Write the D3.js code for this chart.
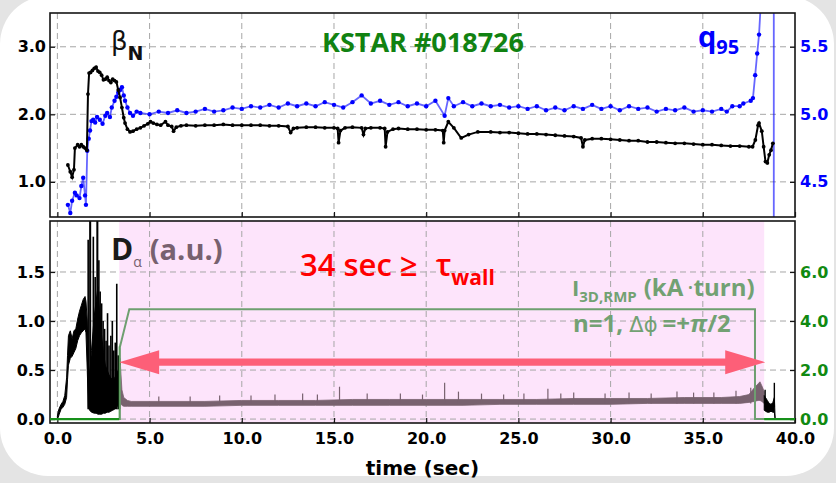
<!DOCTYPE html>
<meta charset="utf-8">
<script src="https://cdn.jsdelivr.net/npm/d3@7/dist/d3.min.js"></script>
<style>
  body { margin: 0; background: #e4e4e4; }
  .tick text { font-family: "DejaVu Sans"; font-weight: bold; font-size: 16px; }
  .grid line { stroke: #a6a6a6; stroke-width: 1; stroke-dasharray: 6,4; }
  .frame { fill: none; stroke: #151515; stroke-width: 1.6; }
</style>
<body>
<script>

// ---- data ----
var timeTicks = [0, 5, 10, 15, 20, 25, 30, 35, 40]
var betaTicks = [1.0, 2.0, 3.0]
var qTicks = [4.5, 5.0, 5.5]
var daTicks = [0.0, 0.5, 1.0, 1.5]
var rmpTicks = [0.0, 2.0, 4.0, 6.0]

// beta_N (black)
var betaT = [0.57, 0.7, 0.8, 0.9, 0.95, 1.1, 1.2, 1.3, 1.4, 1.5, 1.6, 1.66, 1.72, 1.8, 1.9, 2.0, 2.1, 2.2, 2.3, 2.4,
  2.5, 2.6, 2.7, 2.8, 2.9, 3.0, 3.1, 3.2, 3.3, 3.4, 3.5, 3.6, 3.67, 3.8, 3.94, 4.1, 4.3, 4.5, 4.7, 4.9,
  5.05, 5.2, 5.4, 5.6, 5.86, 6.0, 6.2, 6.3, 6.45, 6.7, 7.0, 7.5, 8.0, 8.5, 9.0, 9.5, 10.0, 10.5, 11.0, 11.5,
  12.0, 12.5, 12.65, 12.8, 13.0, 13.5, 14.0, 14.5, 15.0, 15.2, 15.25, 15.35, 15.6, 16.0, 16.5, 16.6, 16.7, 17.0, 17.5, 17.75,
  17.8, 17.9, 18.2, 18.5, 19.0, 19.5, 20.0, 20.5, 20.9, 20.95, 21.0, 21.2, 21.5, 21.9, 22.3, 22.8, 23.5, 24.0, 24.5, 25.0,
  25.5, 26.0, 26.5, 27.0, 27.5, 28.0, 28.4, 28.5, 28.6, 29.0, 29.5, 30.0, 30.5, 31.0, 31.5, 32.0, 32.5, 33.0, 33.5, 34.0,
  34.5, 35.0, 35.5, 36.0, 36.5, 37.0, 37.5, 37.7, 37.85, 38.0, 38.05, 38.2, 38.3, 38.4, 38.5, 38.6, 38.7, 38.8]
var betaN = [1.25, 1.15, 1.07, 1.18, 1.50, 1.55, 1.52, 1.55, 1.52, 1.50, 1.47, 2.30, 2.61, 2.62, 2.65, 2.68, 2.70, 2.64, 2.62, 2.58,
  2.51, 2.52, 2.55, 2.50, 2.47, 2.52, 2.50, 2.48, 2.36, 2.25, 2.10, 1.95, 1.87, 1.78, 1.74, 1.75, 1.78, 1.80, 1.83, 1.86,
  1.89, 1.87, 1.85, 1.84, 1.89, 1.84, 1.82, 1.75, 1.81, 1.83, 1.84, 1.83, 1.84, 1.84, 1.85, 1.84, 1.84, 1.84, 1.84, 1.83,
  1.83, 1.82, 1.73, 1.79, 1.80, 1.81, 1.81, 1.80, 1.80, 1.79, 1.58, 1.76, 1.80, 1.81, 1.80, 1.70, 1.79, 1.80, 1.80, 1.79,
  1.52, 1.74, 1.78, 1.79, 1.78, 1.78, 1.77, 1.77, 1.76, 1.58, 1.76, 1.89, 1.80, 1.65, 1.70, 1.74, 1.74, 1.73, 1.73, 1.72,
  1.71, 1.71, 1.70, 1.69, 1.68, 1.67, 1.65, 1.52, 1.62, 1.64, 1.64, 1.63, 1.62, 1.61, 1.61, 1.59, 1.59, 1.58, 1.57, 1.57,
  1.56, 1.55, 1.55, 1.54, 1.53, 1.53, 1.52, 1.52, 1.62, 1.84, 1.87, 1.75, 1.52, 1.30, 1.28, 1.40, 1.47, 1.57]

// q95 (blue); the last points run off the top and come back down at 38.85
var qT = [0.57, 0.7, 0.8, 0.95, 1.05, 1.2, 1.3, 1.4, 1.5, 1.55, 1.62, 1.7, 1.77, 1.85, 1.94, 2.05, 2.15, 2.3, 2.45, 2.6,
  2.7, 2.85, 2.95, 3.1, 3.2, 3.3, 3.4, 3.5, 3.6, 3.67, 3.8, 3.94, 4.1, 4.3, 4.5, 5.0, 5.5, 6.0, 6.5, 7.0,
  7.5, 8.0, 8.5, 9.0, 9.5, 10.0, 10.5, 11.0, 11.5, 12.0, 12.5, 13.0, 13.5, 14.0, 14.5, 15.0, 15.5, 16.0, 16.5, 17.0,
  17.5, 18.0, 18.5, 19.0, 19.5, 20.0, 20.5, 21.0, 21.2, 21.5, 22.0, 22.5, 23.0, 23.5, 24.0, 24.5, 25.0, 25.5, 26.0, 26.5,
  27.0, 27.5, 28.0, 28.5, 29.0, 29.5, 30.0, 30.5, 31.0, 31.5, 32.0, 32.5, 33.0, 33.5, 34.0, 34.5, 35.0, 35.5, 36.0, 36.3,
  36.6, 37.0, 37.2, 37.6, 37.72, 37.84, 37.95, 38.05, 38.3, 38.85, 38.85]
var q95 = [4.33, 4.27, 4.36, 4.42, 4.40, 4.38, 4.47, 4.53, 4.40, 4.33, 4.73, 4.82, 4.88, 4.95, 4.96, 4.94, 4.98, 4.96, 4.93, 4.99,
  5.01, 4.98, 5.05, 5.10, 5.13, 5.16, 5.18, 5.20, 5.14, 5.10, 5.05, 5.01, 4.99, 5.02, 5.01, 5.00, 5.02, 5.01, 5.03, 5.01,
  5.02, 5.04, 5.02, 5.03, 5.05, 5.04, 5.06, 5.05, 5.07, 5.05, 5.08, 5.06, 5.08, 5.06, 5.09, 5.07, 5.05, 5.09, 5.14, 5.08,
  5.10, 5.07, 5.09, 5.06, 5.08, 5.06, 5.10, 4.99, 5.12, 5.06, 5.09, 5.06, 5.08, 5.06, 5.07, 5.05, 5.06, 5.04, 5.06, 5.03,
  5.05, 5.03, 5.06, 5.04, 5.07, 5.04, 5.06, 5.03, 5.06, 5.04, 5.05, 5.02, 5.04, 5.03, 5.05, 5.02, 5.03, 5.02, 5.04, 5.02,
  5.06, 5.06, 5.08, 5.10, 5.12, 5.29, 5.45, 5.59, 6.20, 6.20, 3.90]

// D_alpha, early black part: lower / upper envelope
var daEarlyT = [0.0, 0.05, 0.1, 0.2, 0.3, 0.4, 0.5, 0.55, 0.6, 0.7, 0.8, 0.9, 1.0, 1.1, 1.2, 1.3, 1.4, 1.5, 1.55, 1.62,
  1.68, 1.75, 1.85, 2.0, 2.1, 2.2, 2.3, 2.4, 2.5, 2.6, 2.7, 2.8, 2.9, 3.0, 3.1, 3.2, 3.3, 3.42]
var daEarlyLo = [0.0, 0.02, 0.05, 0.10, 0.12, 0.15, 0.22, 0.40, 0.55, 0.62, 0.64, 0.68, 0.72, 0.80, 0.85, 0.88, 0.90, 0.92, 0.88, 0.50,
  0.12, 0.09, 0.07, 0.06, 0.06, 0.05, 0.05, 0.05, 0.06, 0.06, 0.07, 0.07, 0.08, 0.09, 0.10, 0.12, 0.14, 0.18]
var daEarlyHi = [0.03, 0.08, 0.11, 0.15, 0.18, 0.24, 0.42, 0.65, 0.85, 0.90, 0.82, 0.90, 0.92, 1.02, 1.10, 1.16, 1.22, 1.25, 1.20, 1.00,
  0.55, 0.45, 0.70, 1.05, 1.20, 1.35, 1.05, 0.85, 0.68, 0.55, 0.50, 0.45, 0.42, 0.40, 0.42, 0.45, 0.50, 0.58]
var daEarlySpikeT = [1.67, 1.77, 1.79, 1.95, 2.05, 2.16, 2.18, 2.25, 2.32, 2.4, 2.48, 2.56, 2.64, 2.72, 2.8, 2.9, 2.98, 3.06, 3.14, 3.22, 3.3, 3.38]
var daEarlySpike = [1.83, 2.10, 2.10, 1.86, 1.45, 2.10, 2.10, 1.62, 1.30, 1.18, 1.00, 0.92, 0.80, 1.08, 0.75, 0.85, 1.00, 0.70, 0.78, 1.38, 0.65, 0.62]

// D_alpha inside the shaded window (mauve)
var daBandT = [3.42, 3.5, 3.6, 3.8, 4.0, 5, 6, 8, 10, 12, 14, 16, 18, 20, 22, 24, 26, 28, 30, 32,
  34, 36, 37, 37.5, 37.8, 38.0, 38.1, 38.2, 38.33]
var daBandLo = [0.16, 0.14, 0.13, 0.13, 0.13, 0.13, 0.13, 0.13, 0.14, 0.14, 0.14, 0.14, 0.14, 0.14, 0.14, 0.15, 0.15, 0.15, 0.15, 0.16,
  0.16, 0.16, 0.16, 0.17, 0.18, 0.19, 0.19, 0.18, 0.16]
var daBandHi = [0.55, 0.30, 0.22, 0.19, 0.18, 0.18, 0.18, 0.18, 0.19, 0.19, 0.19, 0.20, 0.20, 0.20, 0.20, 0.20, 0.20, 0.21, 0.21, 0.21,
  0.22, 0.22, 0.23, 0.25, 0.32, 0.36, 0.38, 0.34, 0.28]
var daBandSpikeT = [5.5, 7.2, 8.8, 10.5, 11.8, 13.3, 14.1, 15.3, 16.8, 18.6, 19.8, 21.0, 21.75, 23.0, 24.2, 25.3, 26.6, 27.3, 28.0, 29.7,
  31.0, 32.2, 33.6, 34.5, 35.6, 36.8, 37.6]
var daBandSpike = [0.23, 0.23, 0.24, 0.24, 0.25, 0.26, 0.25, 0.33, 0.26, 0.26, 0.25, 0.37, 0.28, 0.26, 0.25, 0.26, 0.31, 0.26, 0.27, 0.26,
  0.27, 0.26, 0.28, 0.27, 0.27, 0.29, 0.32]

// D_alpha after the window (black)
var daLateT = [38.33, 38.4, 38.5, 38.6, 38.7, 38.8, 38.88, 38.92]
var daLateLo = [0.09, 0.08, 0.07, 0.07, 0.08, 0.07, 0.07, 0.0]
var daLateHi = [0.24, 0.22, 0.19, 0.16, 0.15, 0.17, 0.22, 0.02]
var daLateSpikeT = [38.38, 38.88]
var daLateSpike = [0.30, 0.37]

// I_3D,RMP in kA turn (green)
var rmpT = [-0.4, 3.39, 3.39, 3.9, 37.83, 37.83, 40.0]
var rmpKA = [0.0, 0.0, 2.94, 4.48, 4.48, 0.0, 0.0]

// shaded window and arrow
var windowT = [3.35, 38.33]
var arrowLevel = 0.58

// ---- layout ----
var W = 836, H = 483
var left = 50, right = 795
var top1 = 13, bot1 = 217
var top2 = 221, bot2 = 423

var svg = d3.select("body").append("svg").attr("width", W).attr("height", H)

svg.append("rect").attr("width", W).attr("height", H).style("fill", "#e4e4e4")
svg.append("rect").attr("x", 0).attr("y", -4).attr("width", 834).attr("height", 480).attr("rx", 48).style("fill", "white")

var x = d3.scaleLinear().domain([-0.4, 40.0]).range([left, right])
var yBeta = d3.scaleLinear().domain([0.48, 3.5]).range([bot1, top1])
var yQ = d3.scaleLinear().domain([4.24, 5.75]).range([bot1, top1])
var yDa = d3.scaleLinear().domain([-0.04, 2.02]).range([bot2, top2])
var yRmp = d3.scaleLinear().domain([-0.16, 8.08]).range([bot2, top2])

var defs = svg.append("defs")
defs.append("clipPath").attr("id", "clip1").append("rect").attr("x", left).attr("y", top1).attr("width", right - left).attr("height", bot1 - top1)
defs.append("clipPath").attr("id", "clip2").append("rect").attr("x", left).attr("y", top2).attr("width", right - left).attr("height", bot2 - top2)
var outside = defs.append("clipPath").attr("id", "clipOut")
outside.append("rect").attr("x", left).attr("y", top2).attr("width", x(windowT[0]) - left).attr("height", bot2 - top2 + 2)
outside.append("rect").attr("x", x(windowT[1])).attr("y", top2).attr("width", right - x(windowT[1])).attr("height", bot2 - top2 + 2)

function zip(a, b) { return a.map((d, i) => [d, b[i]]) }
function zip3(a, b, c) { return a.map((d, i) => [d, b[i], c[i]]) }

// ---------- top panel ----------
var p1 = svg.append("g")
p1.append("rect").attr("x", left).attr("y", top1).attr("width", right - left).attr("height", bot1 - top1).style("fill", "white")

var g1 = p1.append("g").attr("class", "grid")
g1.selectAll(".vx").data(timeTicks.slice(0, -1)).enter().append("line")
  .attr("x1", d => x(d)).attr("x2", d => x(d)).attr("y1", top1).attr("y2", bot1)
g1.selectAll(".hy").data(betaTicks).enter().append("line")
  .attr("x1", left).attr("x2", right).attr("y1", d => yBeta(d)).attr("y2", d => yBeta(d))

var d1 = p1.append("g").attr("clip-path", "url(#clip1)")
var qData = zip(qT, q95)
var betaData = zip(betaT, betaN)

d1.append("path").datum(qData)
  .attr("d", d3.line().x(d => x(d[0])).y(d => yQ(d[1])))
  .style("fill", "none").style("stroke", "#0000ff").style("stroke-opacity", 0.6).style("stroke-width", 1.8)
d1.selectAll(".qdot").data(qData.slice(0, -3)).enter().append("circle")
  .attr("cx", d => x(d[0])).attr("cy", d => yQ(d[1])).attr("r", 2.2).style("fill", "#0000ff")

d1.append("path").datum(betaData)
  .attr("d", d3.line().x(d => x(d[0])).y(d => yBeta(d[1])))
  .style("fill", "none").style("stroke", "#000").style("stroke-width", 2)
d1.selectAll(".bdot").data(betaData).enter().append("circle")
  .attr("cx", d => x(d[0])).attr("cy", d => yBeta(d[1])).attr("r", 1.9).style("fill", "#000")

var ax1L = p1.append("g").attr("transform", "translate(" + left + ",0)")
  .call(d3.axisLeft(yBeta).tickValues(betaTicks).tickFormat(d3.format(".1f")).tickSizeInner(-5).tickSizeOuter(0).tickPadding(4))
var ax1R = p1.append("g").attr("transform", "translate(" + right + ",0)")
  .call(d3.axisRight(yQ).tickValues(qTicks).tickFormat(d3.format(".1f")).tickSizeInner(-5).tickSizeOuter(0).tickPadding(5))
ax1R.selectAll("text").style("fill", "#0000ff")
var ax1B = p1.append("g").attr("transform", "translate(0," + bot1 + ")")
  .call(d3.axisBottom(x).tickValues(timeTicks).tickFormat("").tickSizeInner(-5).tickSizeOuter(0))
p1.append("rect").attr("class", "frame").attr("x", left).attr("y", top1).attr("width", right - left).attr("height", bot1 - top1)

// ---------- bottom panel ----------
var p2 = svg.append("g")
p2.append("rect").attr("x", left).attr("y", top2).attr("width", right - left).attr("height", bot2 - top2).style("fill", "white")
p2.append("rect").attr("x", x(windowT[0])).attr("y", top2).attr("width", x(windowT[1]) - x(windowT[0])).attr("height", bot2 - top2)
  .style("fill", "#fde4fb")

var g2 = p2.append("g").attr("class", "grid")
g2.selectAll(".vx").data(timeTicks.slice(0, -1)).enter().append("line")
  .attr("x1", d => x(d)).attr("x2", d => x(d)).attr("y1", top2).attr("y2", bot2)
g2.selectAll(".hy").data(daTicks).enter().append("line")
  .attr("x1", left).attr("x2", right).attr("y1", d => yDa(d)).attr("y2", d => yDa(d))

var d2 = p2.append("g").attr("clip-path", "url(#clip2)")
var band = d3.area().x(d => x(d[0])).y0(d => yDa(d[1])).y1(d => yDa(d[2]))

d2.append("path").datum(zip3(daEarlyT, daEarlyLo, daEarlyHi)).attr("d", band)
  .style("fill", "#000").style("stroke", "#000").style("stroke-width", 1)
d2.selectAll(".es").data(zip(daEarlySpikeT, daEarlySpike)).enter().append("line")
  .attr("x1", d => x(d[0])).attr("x2", d => x(d[0])).attr("y1", yDa(0.1)).attr("y2", d => yDa(d[1]))
  .style("stroke", "#000").style("stroke-width", 1.6)

d2.append("path").datum(zip3(daBandT, daBandLo, daBandHi)).attr("d", band)
  .style("fill", "#78626f").style("stroke", "#78626f").style("stroke-width", 0.8)
d2.selectAll(".bs").data(zip(daBandSpikeT, daBandSpike)).enter().append("line")
  .attr("x1", d => x(d[0])).attr("x2", d => x(d[0])).attr("y1", yDa(0.16)).attr("y2", d => yDa(d[1]))
  .style("stroke", "#78626f").style("stroke-width", 1.2)

d2.append("path").datum(zip3(daLateT, daLateLo, daLateHi)).attr("d", band)
  .style("fill", "#000").style("stroke", "#000").style("stroke-width", 1)
d2.selectAll(".ls").data(zip(daLateSpikeT, daLateSpike)).enter().append("line")
  .attr("x1", d => x(d[0])).attr("x2", d => x(d[0])).attr("y1", yDa(0.12)).attr("y2", d => yDa(d[1]))
  .style("stroke", "#000").style("stroke-width", 1.4)

var rmpLine = d3.line().x(d => x(d[0])).y(d => yRmp(d[1]))
var rmpData = zip(rmpT, rmpKA)
d2.append("path").datum(rmpData).attr("d", rmpLine)
  .style("fill", "none").style("stroke", "#6e9f70").style("stroke-width", 2)
svg.append("g").attr("clip-path", "url(#clipOut)").append("path").datum(rmpData).attr("d", rmpLine)
  .style("fill", "none").style("stroke", "#17901a").style("stroke-width", 2.2)

// double headed arrow across the window
var ay = yDa(arrowLevel), xa = x(windowT[0]), xb = x(windowT[1]) + 1
var headL = 40, headW = 12, shaft = 3.6
var arrowPts = [[xa, ay], [xa + headL, ay - headW], [xa + headL, ay - shaft], [xb - headL, ay - shaft], [xb - headL, ay - headW],
  [xb, ay], [xb - headL, ay + headW], [xb - headL, ay + shaft], [xa + headL, ay + shaft], [xa + headL, ay + headW]]
p2.append("polygon").attr("points", arrowPts.map(p => p.join(",")).join(" ")).style("fill", "#fd5f78")

var ax2L = p2.append("g").attr("transform", "translate(" + left + ",0)")
  .call(d3.axisLeft(yDa).tickValues(daTicks).tickFormat(d3.format(".1f")).tickSizeInner(-5).tickSizeOuter(0).tickPadding(5))
var ax2R = p2.append("g").attr("transform", "translate(" + right + ",0)")
  .call(d3.axisRight(yRmp).tickValues(rmpTicks).tickFormat(d3.format(".1f")).tickSizeInner(-5).tickSizeOuter(0).tickPadding(5))
ax2R.selectAll("text").style("fill", "#118a11")
var ax2B = p2.append("g").attr("transform", "translate(0," + bot2 + ")")
  .call(d3.axisBottom(x).tickValues(timeTicks).tickFormat(d3.format(".1f")).tickSizeInner(-5).tickSizeOuter(0).tickPadding(10))
p2.append("rect").attr("class", "frame").attr("x", left).attr("y", top2).attr("width", right - left).attr("height", bot2 - top2)

svg.selectAll(".domain").remove()
svg.selectAll(".tick line").style("stroke", "#151515").style("stroke-width", 1.2)
svg.selectAll(".tick text").style("font-family", "DejaVu Sans").style("font-weight", "bold").style("font-size", "16px")

svg.append("text").attr("x", (left + right) / 2).attr("y", 475).attr("text-anchor", "middle")
  .style("font-family", "DejaVu Sans").style("font-weight", "bold").style("font-size", "20px").text("time (sec)")

// ---------- annotations ----------
var bn = svg.append("text").attr("x", 111).attr("y", 50).style("font-family", "DejaVu Sans").style("fill", "#111")
bn.append("tspan").style("font-size", "26px").text("β")
bn.append("tspan").attr("dy", 10).style("font-size", "19px").style("font-weight", "bold").text("N")

svg.append("text").attr("x", 423).attr("y", 52).attr("text-anchor", "middle")
  .style("font-family", "Open Sans").style("font-weight", "bold").style("font-size", "27px").style("fill", "#118211")
  .text("KSTAR #018726")

var qq = svg.append("text").attr("x", 698).attr("y", 47).style("font-family", "Open Sans").style("font-weight", "bold").style("fill", "#0000ff")
qq.append("tspan").style("font-size", "29px").text("q")
qq.append("tspan").attr("dy", 7).style("font-size", "20px").text("95")

var da = svg.append("text").attr("x", 111).attr("y", 260).style("font-family", "Open Sans").style("font-weight", "bold")
da.append("tspan").style("font-size", "30px").style("fill", "#1a1a1a").text("D")
da.append("tspan").attr("dy", 7).style("font-size", "14px").style("font-weight", "normal").style("fill", "#77616f").text("α")
da.append("tspan").attr("dy", -7).attr("dx", 8).style("font-size", "29px").style("fill", "#77616f").text("(a.u.)")

var tw = svg.append("text").attr("x", 300).attr("y", 276).style("font-family", "Open Sans").style("fill", "#ff0000")
tw.append("tspan").style("font-size", "31px").style("font-weight", 600).text("34 sec ≥")
tw.append("tspan").attr("dx", 18).style("font-size", "31px").style("font-weight", 600).text("τ")
tw.append("tspan").attr("dy", 9).style("font-size", "21px").style("font-weight", "bold").text("wall")

var ir = svg.append("text").attr("x", 572).attr("y", 296).style("font-family", "Open Sans").style("font-weight", "bold").style("fill", "#72a173")
ir.append("tspan").style("font-size", "22px").text("I")
ir.append("tspan").attr("dy", 6).style("font-size", "15px").text("3D,RMP")
ir.append("tspan").attr("dy", -6).attr("dx", 7).style("font-size", "24px").text("(kA")
ir.append("tspan").attr("dx", 4).style("font-size", "24px").style("font-weight", "normal").text("·")
ir.append("tspan").style("font-size", "24px").text("turn)")

var nn = svg.append("text").attr("x", 573).attr("y", 332).style("font-family", "Open Sans").style("fill", "#72a173").style("font-size", "24px")
nn.append("tspan").style("font-weight", "bold").text("n=1, ")
nn.append("tspan").style("font-family", "DejaVu Sans").style("font-size", "21px").text("Δϕ")
nn.append("tspan").attr("dx", 5).style("font-weight", "bold").text("=+")
nn.append("tspan").style("font-weight", "bold").style("font-style", "italic").text("π")
nn.append("tspan").style("font-weight", "bold").text("/2")

</script>
</body>
